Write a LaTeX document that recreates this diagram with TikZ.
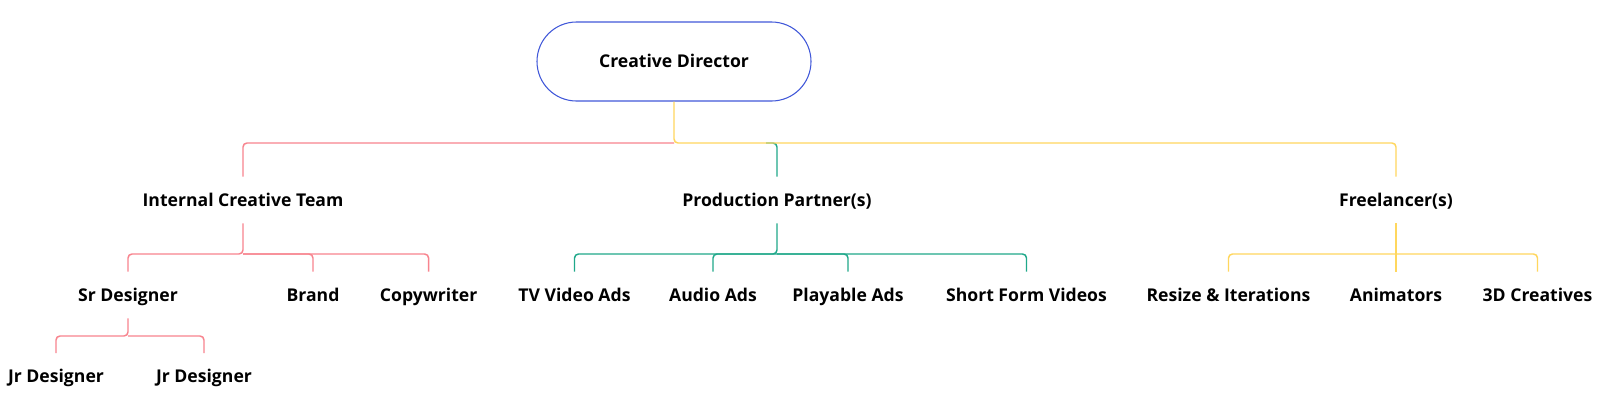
\documentclass[tikz,border=0pt]{standalone}
\usepackage{fontspec}
\setmainfont{Open Sans}
\definecolor{cred}{HTML}{F8848E}
\definecolor{cyel}{HTML}{FFD75E}
\definecolor{cteal}{HTML}{1FA88A}
\definecolor{cblue}{HTML}{4158D9}
\begin{document}
\begin{tikzpicture}[x=0.75pt,y=-0.75pt,
  lbl/.style={font=\bfseries\fontsize{13.2}{15}\selectfont, text height=9.4pt, text depth=0pt, inner sep=0pt, minimum height=34.5pt},
  pill/.style={draw=cblue, line width=0.8pt, rounded corners=29.6pt, minimum width=205.5pt, minimum height=59.25pt, font=\bfseries\fontsize{13.2}{15}\selectfont, text height=9.4pt, text depth=0pt},
  conn/.style={line width=1.1pt, rounded corners=3pt}]
\path[fill=white] (0,0) rectangle (1600,408);
\useasboundingbox (0,0) rectangle (1600,408);
% nodes
\node[pill] (cd) at (674,61.5) {Creative Director};
\node[lbl] (ict) at (243,200) {Internal Creative Team};
\node[lbl] (pp) at (777,200) {Production Partner(s)};
\node[lbl] (fr) at (1396,200) {Freelancer(s)};
\node[lbl] (sd) at (128,295) {Sr Designer};
\node[lbl] (br) at (313,295) {Brand};
\node[lbl] (cw) at (428.6,295) {Copywriter};
\node[lbl] (tv) at (574.5,295) {TV Video Ads};
\node[lbl] (au) at (713,295) {Audio Ads};
\node[lbl] (pl) at (848,295) {Playable Ads};
\node[lbl] (sf) at (1026.5,295) {Short Form Videos};
\node[lbl] (ri) at (1228.5,295) {Resize \& Iterations};
\node[lbl] (an) at (1396,295) {Animators};
\node[lbl] (dc) at (1537.5,295) {3D Creatives};
\node[lbl] (jr1) at (56,376.5) {Jr Designer};
\node[lbl] (jr2) at (204,376.5) {Jr Designer};
% junctions
\coordinate (j0) at (674,143);
\coordinate (jt) at (766,143);
\coordinate (j1) at (243,254);
\coordinate (j2) at (777,254);
\coordinate (j3) at (1396,254);
\coordinate (j4) at (128,336);
% level 1
\draw[conn, cteal] (jt) -| (pp.north);
\draw[conn, cred] (j0) -| (ict.north);
\draw[conn, cyel] (cd.south) -- (j0) -| (fr.north);
% internal creative team
\draw[conn, cred] (ict.south) -- (j1) -| (sd.north);
\draw[conn, cred] (j1) -| (br.north);
\draw[conn, cred] (j1) -| (cw.north);
% production partners
\draw[conn, cteal] (pp.south) -- (j2) -| (tv.north);
\draw[conn, cteal] (j2) -| (au.north);
\draw[conn, cteal] (j2) -| (pl.north);
\draw[conn, cteal] (j2) -| (sf.north);
% freelancers
\draw[conn, cyel] (fr.south) -- (an.north);
\draw[conn, cyel] (j3) -| (ri.north);
\draw[conn, cyel] (j3) -| (dc.north);
% sr designer
\draw[conn, cred] (sd.south) -- (j4) -| (jr1.north);
\draw[conn, cred] (j4) -| (jr2.north);
\end{tikzpicture}
\end{document}
